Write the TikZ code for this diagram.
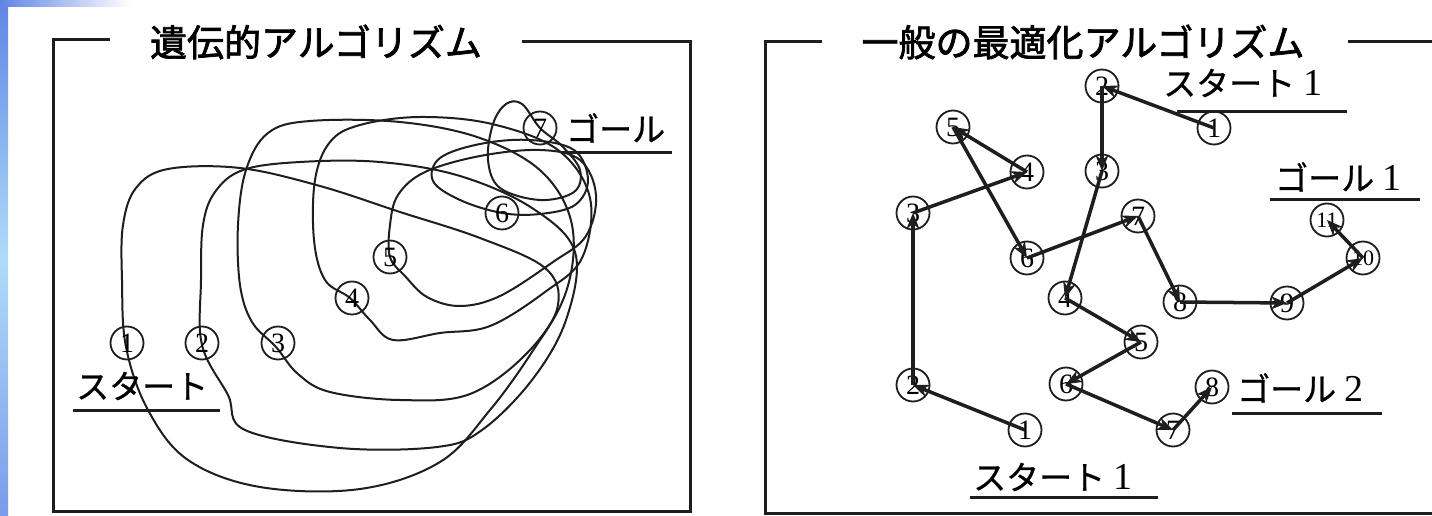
\documentclass[tikz,border=0pt]{standalone}
\usepackage{fontspec}
\setmainfont{Liberation Serif}
\newfontfamily\jp[FakeBold=0.8]{Noto Sans CJK JP}
\newfontfamily\jpb[FakeBold=2]{Noto Sans CJK JP}
\usetikzlibrary{arrows.meta}
\definecolor{ink}{HTML}{1E1E1E}
\definecolor{blueA}{HTML}{5F84E4}
\definecolor{blueB}{HTML}{AFDCF8}
\definecolor{blueC}{HTML}{7A9BEA}
\begin{document}
\begin{tikzpicture}[x=1pt,y=-1pt,
  frame/.style={line width=3pt, ink},
  loopline/.style={line width=2pt, ink, smooth cycle, tension=0.6},
  cnum/.style={circle, draw=ink, line width=1.8pt, minimum size=33pt, inner sep=0pt, font=\fontsize{28}{28}\selectfont},
  arr/.style={line width=3.5pt, ink, -{Stealth[length=16pt,width=13pt]}},
  ttl/.style={font=\jpb\fontsize{37}{40}\selectfont, inner sep=0pt},
  lab/.style={font=\jp\fontsize{33}{36}\selectfont, inner sep=0pt},
  uline/.style={line width=3pt, ink}]
\useasboundingbox (0,0) rectangle (1432,516);
\fill[white] (0,0) rectangle (1432,516);
% blue background strips
\shade[top color=blueA, bottom color=blueC, middle color=blueB] (0,0) rectangle (8,516);
\shade[left color=blueA, right color=white] (0,0) rectangle (130,7);

% ---------- left panel ----------
\draw[frame] (110,40) -- (53,40) -- (53,511) -- (690,511) -- (690,42) -- (522,42);
\node[ttl] (t1) at (316,42) {遺伝的アルゴリズム};

% loops
\draw[loopline] plot coordinates {(126,347) (122,280) (123,225) (136,188) (168,169) (240,168) (320,186) (400,212) (480,238) (545,268) (558,305) (532,352) (490,410) (440,462) (360,489) (260,487) (188,460) (148,410)};
\draw[loopline] plot coordinates {(202,345) (201,280) (203,225) (215,192) (243,170) (300,162) (380,162) (460,176) (532,208) (575,252) (566,320) (532,380) (482,430) (437,447) (340,448) (245,430) (228,395)};
\draw[loopline] plot coordinates {(276,347) (252,322) (240,285) (238,225) (246,170) (268,133) (310,121) (400,122) (480,138) (542,172) (572,225) (566,292) (530,350) (470,394) (400,400) (330,392) (298,374)};
\draw[loopline] plot coordinates {(350,298) (325,280) (314,240) (315,180) (330,142) (360,125) (420,117) (492,124) (558,150) (590,198) (582,258) (545,292) (490,326) (440,333) (393,340) (370,320)};
\draw[loopline] plot coordinates {(390,257) (390,225) (398,195) (425,172) (480,156) (540,150) (580,160) (596,195) (586,236) (553,262) (500,296) (460,306) (427,297) (405,276)};
\draw[loopline] plot coordinates {(502,213) (460,200) (433,181) (440,158) (480,144) (530,140) (574,150) (588,180) (575,205) (540,214)};
\draw[loopline] plot coordinates {(540,128) (522,104) (506,104) (493,124) (488,160) (500,188) (540,200) (574,192) (580,170) (562,146)};

\node[cnum] (l1) at (127,343) {1};
\node[cnum] (l2) at (202,343) {2};
\node[cnum] (l3) at (278,343) {3};
\node[cnum] (l4) at (352,298) {4};
\node[cnum] (l5) at (390,257) {5};
\node[cnum] (l6) at (502,213) {6};
\node[cnum] (l7) at (540,128) {7};

\node[lab, anchor=west] (lgoal) at (566,128) {ゴール};
\draw[uline] (562,153) -- (672,153);
\node[lab, anchor=west] (lstart) at (76,386) {スタート};
\draw[uline] (73,410) -- (220,410);

% ---------- right panel ----------
\draw[frame] (822,42) -- (765,42) -- (765,513) -- (1432,513);
\draw[frame] (1348,42) -- (1432,42);
\node[ttl] (t2) at (1083,42) {一般の最適化アルゴリズム};

% path A
\node[cnum] (a1) at (1025,430) {1};
\node[cnum] (a2) at (913,385) {2};
\node[cnum] (a3) at (913,213) {3};
\node[cnum] (a4) at (1027,172) {4};
\node[cnum] (a5) at (953,127) {5};
\node[cnum] (a6) at (1027,258) {6};
\node[cnum] (a7) at (1138,216) {7};
\node[cnum] (a8) at (1180,302) {8};
\node[cnum] (a9) at (1287,303) {9};
\node[cnum] (a10) at (1363,258) {\fontsize{22}{22}\selectfont 10};
\node[cnum] (a11) at (1327,220) {\fontsize{22}{22}\selectfont 11};
% path B
\node[cnum] (b1) at (1214,128) {1};
\node[cnum] (b2) at (1102,86) {2};
\node[cnum] (b3) at (1102,171) {3};
\node[cnum] (b4) at (1065,298) {4};
\node[cnum] (b5) at (1141,342) {5};
\node[cnum] (b6) at (1066,384) {6};
\node[cnum] (b7) at (1173,430) {7};
\node[cnum] (b8) at (1212,387) {8};

\draw[arr] (a1.center) -- (a2.center);
\draw[arr] (a2.center) -- (a3.center);
\draw[arr] (a3.center) -- (a4.center);
\draw[arr] (a4.center) -- (a5.center);
\draw[arr] (a5.center) -- (a6.center);
\draw[arr] (a6.center) -- (a7.center);
\draw[arr] (a7.center) -- (a8.center);
\draw[arr] (a8.center) -- (a9.center);
\draw[arr] (a9.center) -- (a10.center);
\draw[arr] (a10.center) -- (a11.center);

\draw[arr] (b1.center) -- (b2.center);
\draw[arr] (b2.center) -- (b3.center);
\draw[arr] (b3.center) -- (b4.center);
\draw[arr] (b4.center) -- (b5.center);
\draw[arr] (b5.center) -- (b6.center);
\draw[arr] (b6.center) -- (b7.center);
\draw[arr] (b7.center) -- (b8.center);

\node[lab, anchor=west] (rs1) at (1163,83) {スタート\hspace{8pt}{\rmfamily\fontsize{38}{38}\selectfont 1}};
\draw[uline] (1177,112) -- (1347,112);
\node[lab, anchor=west] (rg1) at (1275,177) {ゴール\hspace{8pt}{\rmfamily\fontsize{38}{38}\selectfont 1}};
\draw[uline] (1270,199) -- (1420,199);
\node[lab, anchor=west] (rg2) at (1237,388) {ゴール\hspace{8pt}{\rmfamily\fontsize{38}{38}\selectfont 2}};
\draw[uline] (1232,413) -- (1382,413);
\node[lab, anchor=west] (rs2) at (973,477) {スタート\hspace{8pt}{\rmfamily\fontsize{38}{38}\selectfont 1}};
\draw[uline] (970,497) -- (1158,497);
\end{tikzpicture}
\end{document}
